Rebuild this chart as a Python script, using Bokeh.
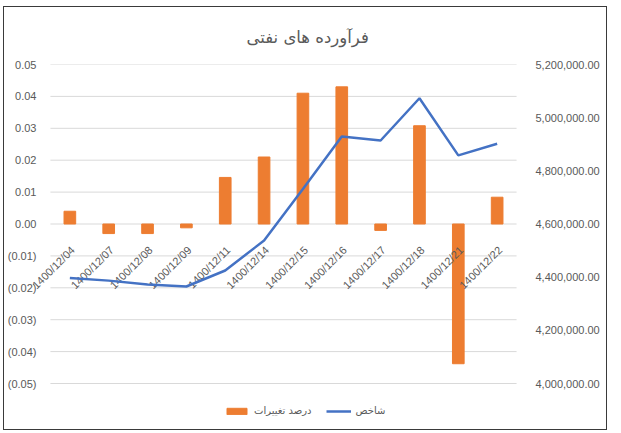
import numpy as np
from bokeh.plotting import figure
from bokeh.models import (Range1d, LinearAxis, FixedTicker, NumeralTickFormatter,
                          Legend, LegendItem, ColumnDataSource, FactorRange)
from bokeh.core.properties import value
from bokeh.embed import file_html
from bokeh.resources import INLINE

# ---- data ----
dates = ["1400/12/04", "1400/12/07", "1400/12/08", "1400/12/09", "1400/12/11", "1400/12/14",
         "1400/12/15", "1400/12/16", "1400/12/17", "1400/12/18", "1400/12/21", "1400/12/22"]
change = [0.0040, -0.0030, -0.0030, -0.0012, 0.0146, 0.0210,
          0.0410, 0.0430, -0.0020, 0.0308, -0.0438, 0.0084]
index_vals = [4397000, 4387000, 4372000, 4365000, 4425000, 4538000,
              4732000, 4929000, 4914000, 5073000, 4858000, 4902000]
left_ticks = [-0.05, -0.04, -0.03, -0.02, -0.01, 0.0, 0.01, 0.02, 0.03, 0.04, 0.05]
left_labels = ["(0.05)", "(0.04)", "(0.03)", "(0.02)", "(0.01)", "0.00",
               "0.01", "0.02", "0.03", "0.04", "0.05"]
right_ticks = [4000000, 4200000, 4400000, 4600000, 4800000, 5000000, 5200000]
title_text = "فرآورده های نفتی"
bar_name = "درصد تغییرات"
line_name = "شاخص"

ORANGE = "#ED7D31"
BLUE = "#4472C4"
GRAY = "#595959"
GRID = "#d9d9d9"
NUMFONT = "Liberation Sans"
ARFONT = "DejaVu Sans"

# ---- layout constants (pixels) ----
AXIS_PX = 319          # pixel height of the -0.05..0.05 span
EXTRA_PX = 43          # frame continues below the lowest tick (room for the legend)
PAD_CATS = 18 / 39.0   # side padding of the category range (in categories)

lo_l, hi_l = left_ticks[0], left_ticks[-1]
lo_r, hi_r = right_ticks[0], right_ticks[-1]
extra_l = (hi_l - lo_l) * EXTRA_PX / AXIS_PX
extra_r = (hi_r - lo_r) * EXTRA_PX / AXIS_PX

src = ColumnDataSource(dict(d=dates, c=change, v=index_vals, z=[0.0] * len(dates)))

p = figure(width=604, height=424,
           x_range=FactorRange(*dates, range_padding=PAD_CATS, range_padding_units="absolute"),
           y_range=Range1d(lo_l - extra_l, hi_l),
           output_backend="svg", toolbar_location=None,
           min_border_left=25, min_border_right=74, min_border_top=57, min_border_bottom=5)
p.styles = {"border": "1px solid #3a3a3a", "margin-left": "3px", "margin-top": "6px"}
p.outline_line_color = None
p.background_fill_color = "white"
p.border_fill_color = "white"
p.extra_y_ranges = {"idx": Range1d(lo_r - extra_r, hi_r)}

# title
p.title.text = title_text
p.title.align = "left"
p.title.text_font = ARFONT
p.title.text_font_size = "16.5px"
p.title.text_font_style = "normal"
p.title.text_color = GRAY
p.title.offset = 214
p.title.standoff = 36

# grid lines across the category span only
p.xgrid.visible = False
p.ygrid.visible = False
p.segment(x0=[(dates[0], -0.5)] * len(left_ticks), x1=[(dates[-1], 0.5)] * len(left_ticks),
          y0=left_ticks, y1=left_ticks, line_color=GRID, line_width=1)

# left axis
ya = p.yaxis[0]
ya.ticker = FixedTicker(ticks=left_ticks)
ya.major_label_overrides = {t: l for t, l in zip(left_ticks, left_labels)}
ya.axis_line_color = None
ya.major_tick_line_color = None
ya.minor_tick_line_color = None
ya.major_label_standoff = -10
ya.major_label_text_font = NUMFONT
ya.major_label_text_font_size = "11px"
ya.major_label_text_color = GRAY

# right axis
ra = LinearAxis(y_range_name="idx", ticker=FixedTicker(ticks=right_ticks),
                formatter=NumeralTickFormatter(format="0,0.00"))
ra.axis_line_color = None
ra.major_tick_line_color = None
ra.minor_tick_line_color = None
ra.major_label_standoff = -5
ra.major_label_text_font = NUMFONT
ra.major_label_text_font_size = "11px"
ra.major_label_text_color = GRAY
p.add_layout(ra, "right")

p.xaxis.visible = False

bars = p.vbar(x="d", top="c", bottom=0, width=0.3, source=src,
              fill_color=ORANGE, line_color=ORANGE)

p.text(x="d", y="z", text="d", source=src, angle=np.pi / 4, angle_units="rad",
       text_align="right", text_baseline="middle", x_offset=3, y_offset=24,
       text_font=value(NUMFONT), text_font_size="11px", text_color=GRAY)

ln = p.line(x="d", y="v", y_range_name="idx", source=src, line_color=BLUE, line_width=2.5)

legend = Legend(items=[LegendItem(label=bar_name, renderers=[bars]),
                       LegendItem(label=line_name, renderers=[ln])],
                orientation="horizontal", location=(192, 10),
                label_text_font=ARFONT, label_text_font_size="10px", label_text_color=GRAY,
                glyph_width=25, glyph_height=8, spacing=14, padding=4,
                background_fill_alpha=0, border_line_color=None)
p.add_layout(legend, "center")

open("out.html", "w").write(file_html(p, INLINE))
